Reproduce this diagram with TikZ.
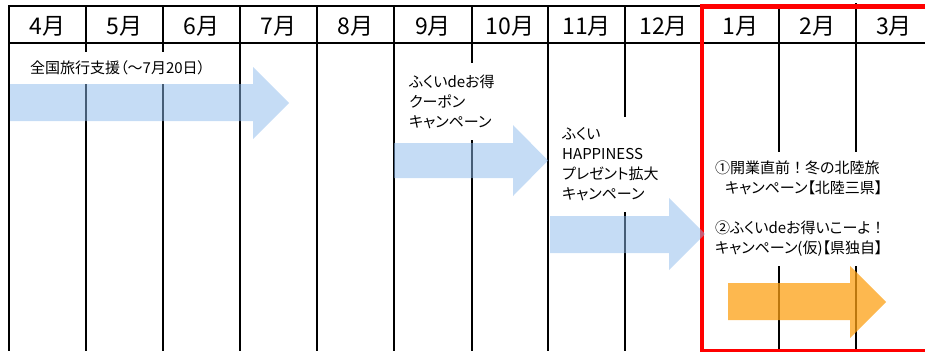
\documentclass[tikz,border=0pt]{standalone}
\usepackage{fontspec}
\setmainfont{Noto Sans CJK JP}[RawFeature=+palt]
\newfontfamily\jpwide{Noto Sans CJK JP}
\definecolor{campblue}{RGB}{140,186,236}
\definecolor{camporange}{RGB}{252,160,20}

\begin{document}
\begin{tikzpicture}[x=1pt,y=-1pt,
		month/.style={font=\fontsize{23}{26}\selectfont},
		label box/.style={fill=white,align=left,anchor=west,inner xsep=8pt,inner ysep=0pt,font=\fontsize{15}{20}\selectfont},
		rule/.style={line width=1.3pt},
		blue arrow/.style={fill=campblue,fill opacity=0.5},
		orange arrow/.style={fill=camporange,fill opacity=0.75}]
		\useasboundingbox (0,0) rectangle (925,351);
		
		%table
		\draw[line width=1.5pt] (8,6) -- (925,6);
		\draw[line width=1.5pt] (8,43) -- (925,43);
		\draw[line width=2pt] (9,5) -- (9,351);
		\draw[rule] (86,5) -- (86,351) (163,5) -- (163,351) (240,5) -- (240,351) (317,5) -- (317,351)
			  (394,5) -- (394,351) (472,5) -- (472,351) (548,5) -- (548,351) (625,5) -- (625,351)
			  (702,5) -- (702,351) (779,5) -- (779,351) (856,3) -- (856,351);
		
		%months
		\node[month] (m4) at (47.5,26) {4月};
		\node[month] (m5) at (124.5,26) {5月};
		\node[month] (m6) at (201.5,26) {6月};
		\node[month] (m7) at (278.5,26) {7月};
		\node[month] (m8) at (355.5,26) {8月};
		\node[month] (m9) at (433,26) {9月};
		\node[month] (m10) at (510,26) {10月};
		\node[month] (m11) at (586.5,26) {11月};
		\node[month] (m12) at (663.5,26) {12月};
		\node[month] (m1) at (740.5,26) {1月};
		\node[month] (m2) at (817.5,26) {2月};
		\node[month] (m3) at (894,26) {3月};
		
		%winter season
		\draw[red,line width=4.7pt] (702,6.5) rectangle (945,351.5);
		
		%campaigns
		\node[label box,minimum height=32pt] (travel) at (22,68) {全国旅行支援（〜7月20日）};
		\node[label box,minimum height=77pt] (coupon) at (401,101.5) {ふくいdeお得\\クーポン\\キャンペーン};
		\node[label box,minimum height=95pt] (happiness) at (554,164.5) {ふくい\\HAPPINESS\\プレゼント拡大\\キャンペーン};
		\node[label box,minimum height=114pt] (winter) at (707,209) {①開業直前{\jpwide ！}冬の北陸旅\\\hspace*{10pt}キャンペーン【北陸三県】\\[20pt]
			②ふくいdeお得いこーよ{\jpwide ！}\\キャンペーン(仮)【県独自】};
		
		%arrows
		\fill[blue arrow] (10,84) -- (253,84) -- (253,67) -- (289,103) -- (253,139) -- (253,121) -- (10,121) -- cycle;
		\fill[blue arrow] (394,143) -- (513,143) -- (513,125) -- (548,160.5) -- (513,196) -- (513,178) -- (394,178) -- cycle;
		\fill[blue arrow] (550,216) -- (669,216) -- (669,198) -- (705,234) -- (669,270) -- (669,253) -- (550,253) -- cycle;
		\fill[orange arrow] (728,283) -- (850,283) -- (850,266) -- (886,302) -- (850,338) -- (850,320) -- (728,320) -- cycle;
		
		\end{tikzpicture}
\end{document}
